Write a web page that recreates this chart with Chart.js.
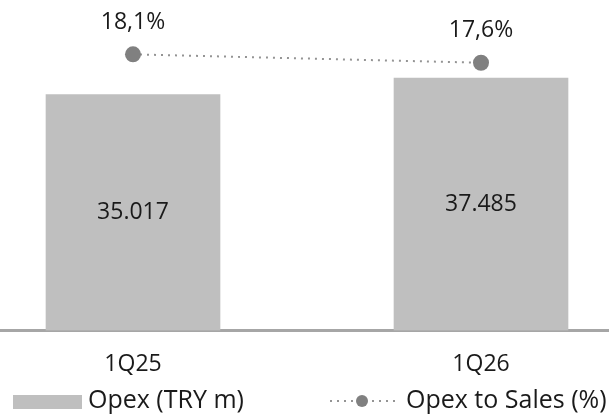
<!DOCTYPE html>
<html>
<head>
<meta charset="utf-8">
<script src="https://cdn.jsdelivr.net/npm/chart.js@4/dist/chart.umd.min.js"></script>
<style>
  html, body { margin: 0; padding: 0; background: #fff; }
  #wrap { width: 609px; height: 416px; }
</style>
</head>
<body>
<div id="wrap"><canvas id="opexChart"></canvas></div>
<script>
// data
const categories = ['1Q25', '1Q26'];
const opexValues = [35017, 37485];
const opexToSales = [18.1, 17.6];
const opexLabels = ['35.017', '37.485'];
const ratioLabels = ['18,1%', '17,6%'];
const seriesNames = ['Opex (TRY m)', 'Opex to Sales (%)'];

const FONT = '"Open Sans", sans-serif';
const FONT_SIZE = 23;
const BAR_COLOR = '#bfbfbf';
const DOT_COLOR = '#808080';
const LINE_COLOR = '#949494';

// labels on bars and above points
const valueLabels = {
  id: 'valueLabels',
  afterDatasetsDraw(chart) {
    const ctx = chart.ctx;
    ctx.save();
    ctx.font = FONT_SIZE + 'px ' + FONT;
    ctx.fillStyle = '#1a1a1a';
    ctx.textAlign = 'center';
    ctx.textBaseline = 'middle';
    chart.getDatasetMeta(0).data.forEach((bar, i) => {
      ctx.fillText(opexLabels[i], bar.x, (bar.y + bar.base) / 2);
    });
    chart.getDatasetMeta(1).data.forEach((pt, i) => {
      ctx.fillText(ratioLabels[i], pt.x, pt.y - 32);
    });
    ctx.restore();
  }
};

// legend drawn by hand so spacing matches
const bottomLegend = {
  id: 'bottomLegend',
  afterDraw(chart) {
    const ctx = chart.ctx;
    const y = 401;
    ctx.save();
    ctx.fillStyle = BAR_COLOR;
    ctx.fillRect(13, 395, 69, 14);
    ctx.strokeStyle = LINE_COLOR;
    ctx.lineWidth = 2;
    ctx.setLineDash([2, 5]);
    ctx.beginPath();
    ctx.moveTo(330, y);
    ctx.lineTo(396, y);
    ctx.stroke();
    ctx.setLineDash([]);
    ctx.fillStyle = DOT_COLOR;
    ctx.beginPath();
    ctx.arc(362, y, 6, 0, Math.PI * 2);
    ctx.fill();
    ctx.font = '25px ' + FONT;
    ctx.fillStyle = '#1a1a1a';
    ctx.textAlign = 'left';
    ctx.textBaseline = 'middle';
    ctx.fillText(seriesNames[0], 88, y);
    ctx.fillText(seriesNames[1], 406, y);
    ctx.restore();
  }
};

new Chart(document.getElementById('opexChart'), {
  data: {
    datasets: [
      {
        type: 'bar',
        label: seriesNames[0],
        data: opexValues.map((v, i) => ({ x: i, y: v })),
        backgroundColor: BAR_COLOR,
        barThickness: 174,
        yAxisID: 'y',
        order: 2
      },
      {
        type: 'line',
        label: seriesNames[1],
        data: opexToSales.map((v, i) => ({ x: i, y: v })),
        borderColor: LINE_COLOR,
        borderWidth: 2,
        borderDash: [2, 5],
        pointRadius: 8,
        pointBackgroundColor: DOT_COLOR,
        pointBorderWidth: 0,
        yAxisID: 'y2',
        order: 1
      }
    ]
  },
  options: {
    responsive: true,
    maintainAspectRatio: false,
    animation: false,
    layout: { autoPadding: false, padding: { left: 0, right: 0, top: 0, bottom: 18 } },
    plugins: {
      legend: { display: false },
      tooltip: { enabled: false }
    },
    scales: {
      x: {
        type: 'linear',
        offset: false,
        min: -0.3822,
        max: 1.3678,
        grid: { display: false, drawTicks: false, offset: false },
        border: { display: true, color: '#a6a6a6', width: 3 },
        afterBuildTicks: (scale) => { scale.ticks = categories.map((_, i) => ({ value: i })); },
        ticks: {
          padding: 20,
          color: '#1a1a1a',
          font: { family: FONT, size: FONT_SIZE },
          callback: (v) => categories[v]
        }
      },
      y: { display: false, min: 0, max: 49070 },
      y2: { display: false, min: 1.69, max: 21.33 }
    }
  },
  plugins: [valueLabels, bottomLegend]
});
</script>
</body>
</html>
